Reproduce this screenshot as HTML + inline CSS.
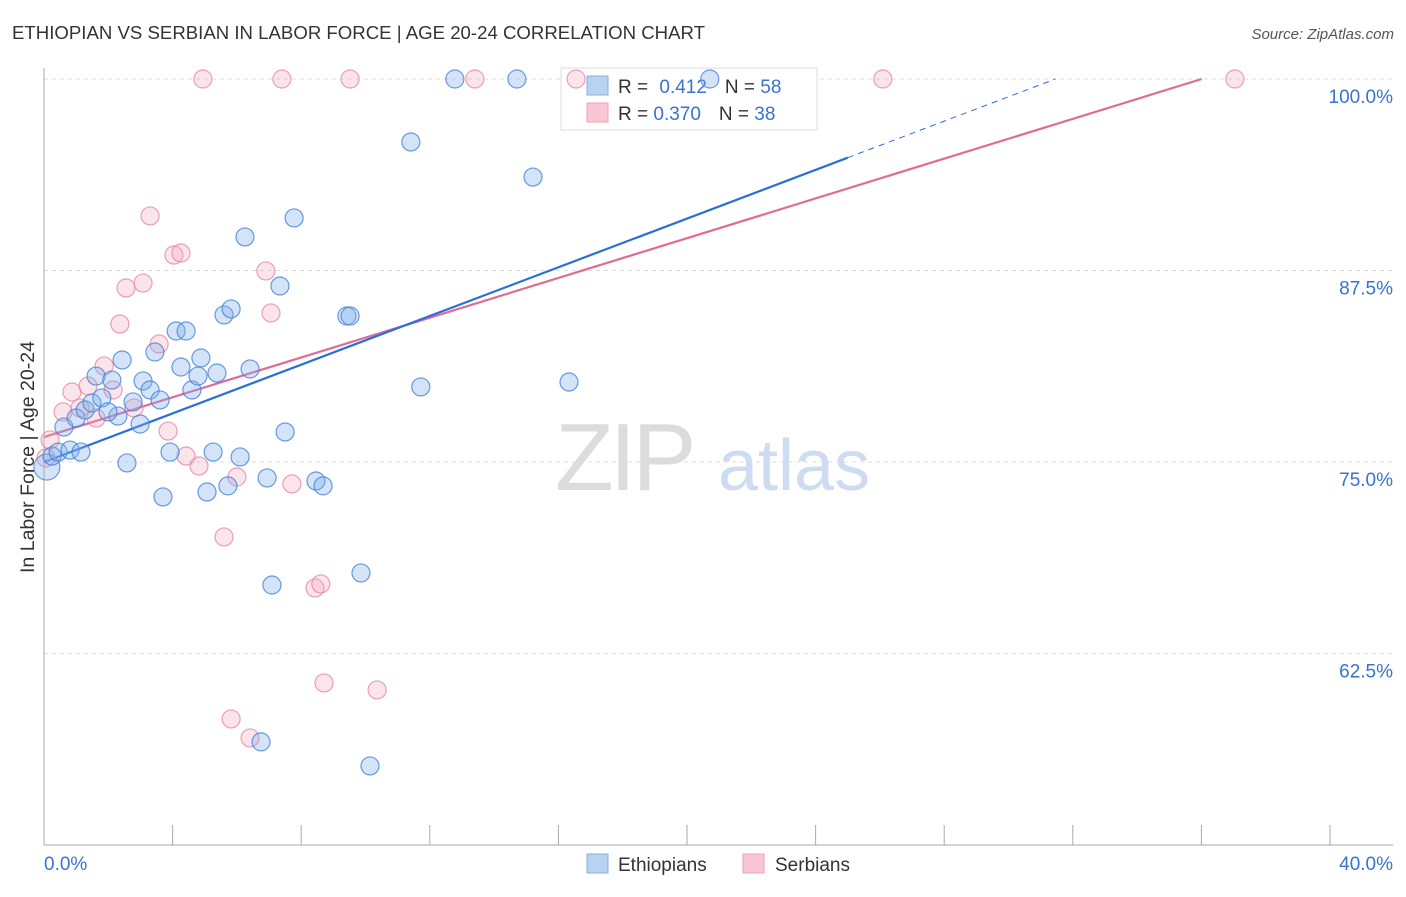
<!DOCTYPE html>
<html><head><meta charset="utf-8"><style>
body{margin:0;background:#fff;font-family:"Liberation Sans",sans-serif;}
svg text{font-family:"Liberation Sans",sans-serif;}
</style></head><body>
<svg id="chart" width="1406" height="892" xmlns="http://www.w3.org/2000/svg">
<text x="12" y="39" font-size="18" fill="#333" textLength="693" lengthAdjust="spacingAndGlyphs">ETHIOPIAN VS SERBIAN IN LABOR FORCE | AGE 20-24 CORRELATION CHART</text>
<text x="1394" y="39" font-size="15" fill="#555" text-anchor="end" font-style="italic">Source: ZipAtlas.com</text>
<g>
<text x="555" y="490" font-size="96" fill="#dcdcdc" font-family="Liberation Serif" letter-spacing="-4">ZIP</text>
<text x="718" y="490" font-size="72" fill="#cddcf0">atlas</text>
</g>
<g id="grid"></g>
<g id="axes"></g>
<g>
<rect x="561" y="68" width="256" height="62" fill="#fff" stroke="#ddd"/>
<rect x="587" y="76" width="21" height="19" fill="#b8d2f2" stroke="#88aee6"/>
<rect x="587" y="103" width="21" height="19" fill="#f9c6d4" stroke="#eea0b8"/>
<text x="618" y="93" font-size="19" fill="#333">R = <tspan fill="#3a72d0" dx="6">0.412</tspan><tspan fill="#333" dx="18">N = </tspan><tspan fill="#3a72d0">58</tspan></text>
<text x="618" y="120" font-size="19" fill="#333">R = <tspan fill="#3a72d0">0.370</tspan><tspan fill="#333" dx="18">N = </tspan><tspan fill="#3a72d0">38</tspan></text>
</g>
<g id="trends"></g>
<g id="points"></g>
<text transform="translate(34,457) rotate(-90)" font-size="19" fill="#333" text-anchor="middle" textLength="232" lengthAdjust="spacingAndGlyphs">In Labor Force | Age 20-24</text>
<g>
<rect x="587" y="854" width="21" height="19" fill="#b8d2f2" stroke="#88aee6"/>
<text x="618" y="871" font-size="19" fill="#333">Ethiopians</text>
<rect x="743" y="854" width="21" height="19" fill="#f9c6d4" stroke="#eea0b8"/>
<text x="775" y="871" font-size="19" fill="#333">Serbians</text>
</g>
</svg>
<script>
const yTicks=[100,87.5,75,62.5];
const yTickLabels=["100.0%","87.5%","75.0%","62.5%"];
const xTicks=[0,4,8,12,16,20,24,28,32,36,40];
const ethX=[0.09,0.25,0.44,0.81,1.15,0.62,1.00,1.28,1.49,1.80,1.62,2.11,2.30,1.99,2.43,2.77,2.99,3.08,3.30,3.61,3.45,4.11,4.42,4.26,4.60,4.79,4.88,5.38,5.60,5.82,6.41,6.25,7.34,7.78,7.50,9.42,9.52,11.72,16.33,11.41,15.21,12.78,14.71,20.71,2.58,3.70,3.92,5.07,5.26,5.72,6.10,6.94,8.46,8.68,7.09,9.86,6.75,10.14];
const ethY=[74.67,75.39,75.65,75.78,75.65,77.28,77.87,78.40,78.85,79.18,80.61,80.35,78.00,78.27,81.66,78.92,77.48,80.29,79.70,79.05,82.18,83.55,83.55,81.20,79.70,80.61,81.79,80.81,84.60,84.99,81.07,89.69,86.49,90.93,76.96,84.53,84.53,79.90,80.22,95.89,93.60,100,100,100,74.94,72.72,75.65,73.04,75.65,73.44,75.33,73.96,73.76,73.44,66.97,67.76,56.73,55.16];
const serX=[0.06,0.19,0.59,0.87,1.12,1.37,1.62,1.87,2.15,2.80,2.36,2.55,3.08,3.30,3.58,3.86,4.04,4.26,4.42,4.82,4.94,7.40,9.52,13.40,16.55,26.09,37.04,6.90,7.06,6.00,5.60,7.71,8.43,8.61,8.71,10.36,5.82,6.41];
const serY=[75.26,76.44,78.27,79.57,78.53,79.96,77.87,81.27,79.70,78.53,84.01,86.36,86.68,91.06,82.70,77.02,88.51,88.64,75.39,74.74,100,100,100,100,100,100,100,87.47,84.73,74.02,70.11,73.57,66.78,67.04,60.58,60.12,58.23,56.99];
const ethTrend=[74.99,0.795];
const serTrend=[76.63,0.649];
const NS="http://www.w3.org/2000/svg";
const X0=44,X1=1330,Y100=79,PXPER=191.5/12.5;
const sx=v=>X0+(v/40)*(X1-X0);
const sy=v=>Y100+(100-v)*PXPER;
function mk(tag,at,parent){const e=document.createElementNS(NS,tag);for(const k in at)e.setAttribute(k,at[k]);document.getElementById(parent).appendChild(e);return e;}
yTicks.forEach((t,i)=>{
 const l=mk('line',{x1:X0,x2:1393,y1:sy(t),y2:sy(t),stroke:'#ddd','stroke-dasharray':'4,4'},'grid');
 
 
 const tx=mk('text',{x:1393,y:sy(t)+24,'font-size':19,fill:'#3a72d0','text-anchor':'end'},'grid');
 tx.textContent=yTickLabels[i];
 
 
});
const ax=mk('line',{x1:X0,x2:X0,y1:68,y2:845,stroke:'#aaa'},'axes');


const bx=mk('line',{x1:X0,x2:1393,y1:845,y2:845,stroke:'#aaa'},'axes');


xTicks.forEach(t=>{const l=mk('line',{x1:sx(t),x2:sx(t),y1:825,y2:845,stroke:'#aaa'},'axes');
 
 });
const xl0=mk('text',{x:X0,y:870,'font-size':19,fill:'#3a72d0'},'axes');xl0.textContent='0.0%';


const xl1=mk('text',{x:1393,y:870,'font-size':19,fill:'#3a72d0','text-anchor':'end'},'axes');xl1.textContent='40.0%';


function pts(xs,ys,fill,stroke,name){xs.forEach((x,i)=>{const c=mk('circle',{cx:sx(x),cy:sy(ys[i]),r:(name==='ethiopian-point'&&i===0)?13:9,fill:fill,stroke:stroke,'stroke-width':1.2},'points');
 
 });}
pts(serX,serY,'rgba(245,165,190,0.3)','rgba(230,130,160,0.75)','serbian-point');
pts(ethX,ethY,'rgba(130,175,235,0.35)','rgba(70,130,215,0.8)','ethiopian-point');
function trend(tr,xEnd,xDash,color,name){
 const xm=Math.min(xEnd,(100-tr[0])/tr[1]);
 const l=mk('line',{x1:sx(0),y1:sy(tr[0]),x2:sx(xm),y2:sy(tr[0]+tr[1]*xm),stroke:color,'stroke-width':2.2},'trends');
 
 
 if(xDash){const xd=(100-tr[0])/tr[1];const d=mk('line',{x1:sx(xm),y1:sy(tr[0]+tr[1]*xm),x2:sx(xd),y2:sy(100),stroke:color,'stroke-width':1,'stroke-dasharray':'6,5'},'trends');
 
 }
}
trend(serTrend,40,false,'#e26a94','serbian-trend-line');
trend(ethTrend,25,true,'#2a6fd6','ethiopian-trend-line');
</script>
</body></html>
